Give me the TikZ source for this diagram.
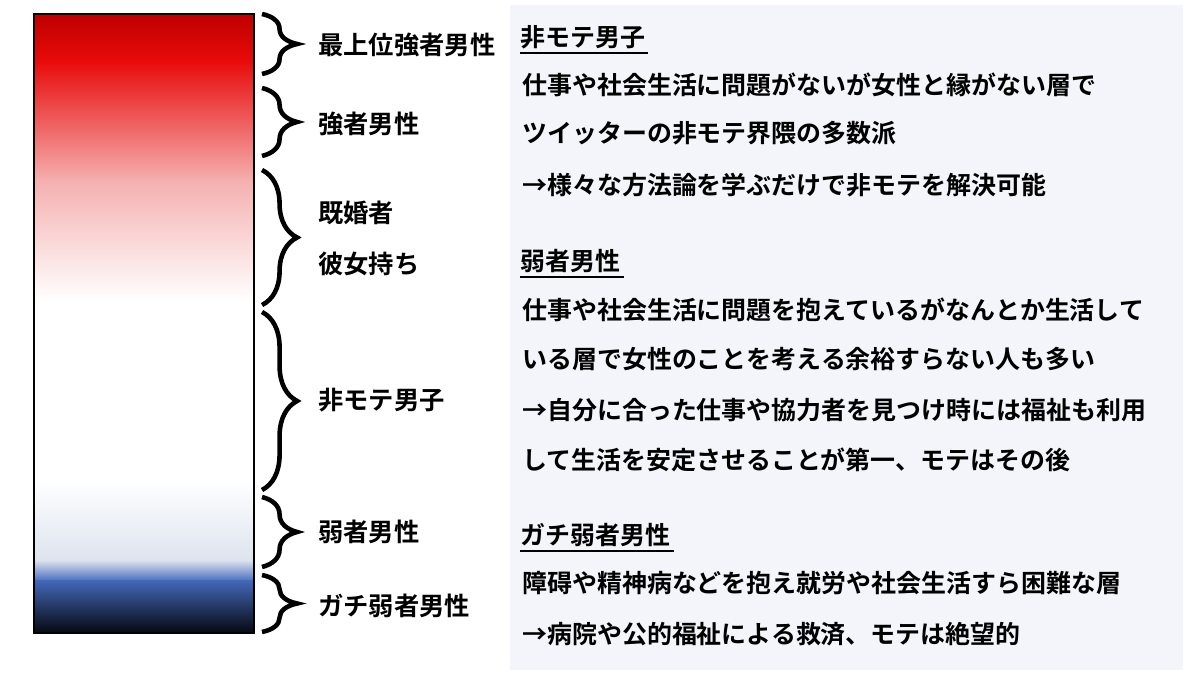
\documentclass[tikz,border=0pt]{standalone}
\usepackage{fontspec}
\setmainfont{Noto Sans CJK JP}[BoldFont={Noto Sans CJK JP Bold}]
\usetikzlibrary{decorations.pathreplacing}
\definecolor{panel}{RGB}{244,245,250}
\begin{document}
\begin{tikzpicture}[x=0.02cm,y=-0.02cm,
  br/.style={decorate,decoration={brace,amplitude=20pt},line width=2.6pt},
  lab/.style={anchor=west,font=\fontsize{14.4}{16}\selectfont\bfseries,inner sep=0pt},
  txt/.style={anchor=west,font=\fontsize{14.2}{16}\selectfont\bfseries,inner sep=0pt}]
\useasboundingbox (0,0) rectangle (1200,675);
\fill[white] (0,0) rectangle (1200,675);
\fill[panel] (510,5) rectangle (1183,670);
% gradient bar
\shade[top color={rgb,255:red,190;green,0;blue,0}, bottom color={rgb,255:red,232;green,10;blue,10}] (34,14) rectangle (254,61);
\shade[top color={rgb,255:red,232;green,10;blue,10}, bottom color={rgb,255:red,245;green,175;blue,175}] (34,60) rectangle (254,181);
\shade[top color={rgb,255:red,245;green,175;blue,175}, bottom color=white] (34,180) rectangle (254,301);
\fill[white] (34,300) rectangle (254,481);
\shade[top color=white, bottom color={rgb,255:red,221;green,227;blue,238}] (34,480) rectangle (254,561);
\shade[top color={rgb,255:red,221;green,227;blue,238}, bottom color={rgb,255:red,72;green,110;blue,190}] (34,560) rectangle (254,581);
\shade[top color={rgb,255:red,68;green,104;blue,184}, bottom color={rgb,255:red,5;green,8;blue,15}] (34,580) rectangle (254,633);
\draw[line width=0.6pt] (34,14) rectangle (254,633);
% braces
\foreach \a/\b/\n in {14/74/1,88/156/2,170/305/3,312/490/4,497/567/5,575/632/6}{
  \coordinate (t\n) at (262,\a); \coordinate (b\n) at (262,\b);
  \draw[br] (t\n) -- (b\n);
}
\node[lab] (l1) at (318,45) {最上位強者男性};
\node[lab] (l2) at (318,124) {強者男性};
\node[lab] (l3a) at (318,213) {既婚者};
\node[lab] (l3b) at (318,264) {彼女持ち};
\node[lab] (l4) at (318,400) {非モテ男子};
\node[lab] (l5) at (318,532) {弱者男性};
\node[lab] (l6) at (318,606) {ガチ弱者男性};
% right texts
\node[txt] (r1) at (520,37) {非モテ男子};
\draw[line width=1.2pt] (r1.south west)++(0,4) -- ++(128,0);
\node[txt] (r2) at (522,85) {仕事や社会生活に問題がないが女性と縁がない層で};
\node[txt] (r3) at (522,133) {ツイッターの非モテ界隈の多数派};
\node[txt] (r4) at (522,185) {→様々な方法論を学ぶだけで非モテを解決可能};
\node[txt] (r5) at (520,261) {弱者男性};
\draw[line width=1.2pt] (r5.south west)++(0,4) -- ++(104,0);
\node[txt] (r6) at (522,310) {仕事や社会生活に問題を抱えているがなんとか生活して};
\node[txt] (r7) at (522,359) {いる層で女性のことを考える余裕すらない人も多い};
\node[txt] (r8) at (522,410) {→自分に合った仕事や協力者を見つけ時には福祉も利用};
\node[txt] (r9) at (522,460) {して生活を安定させることが第一、モテはその後};
\node[txt] (r10) at (520,535) {ガチ弱者男性};
\draw[line width=1.2pt] (r10.south west)++(0,4) -- ++(154,0);
\node[txt] (r11) at (522,583) {障碍や精神病などを抱え就労や社会生活すら困難な層};
\node[txt] (r12) at (522,634) {→病院や公的福祉による救済、モテは絶望的};
\end{tikzpicture}
\end{document}
